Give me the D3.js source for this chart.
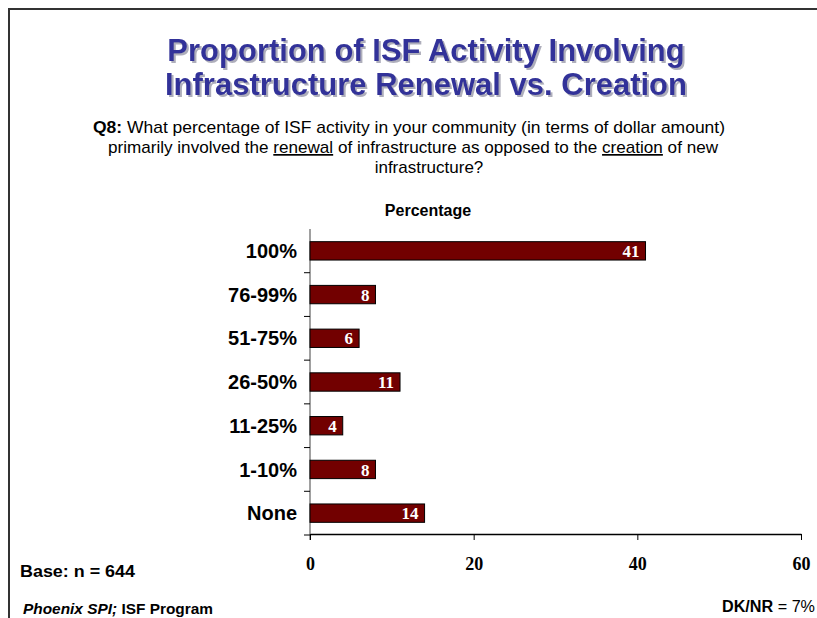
<!DOCTYPE html>
<html>
<head>
<meta charset="utf-8">
<script src="https://cdn.jsdelivr.net/npm/d3@7"></script>
<style>
  body { margin: 0; background: #fff; }
  svg { display: block; }
</style>
</head>
<body>
<div id="chart"></div>
<script>
// Proportion of ISF activity: renewal vs creation
var categories = ["100%", "76-99%", "51-75%", "26-50%", "11-25%", "1-10%", "None"];
var values = [41, 8, 6, 11, 4, 8, 14];
var xTicks = [0, 20, 40, 60];

var W = 817, H = 618;
var sans = "'Liberation Sans', Arial, sans-serif";
var serif = "'Liberation Serif', 'Times New Roman', serif";

var svg = d3.select("#chart").append("svg")
	.attr("width", W)
	.attr("height", H);

// drop shadow for the title
var defs = svg.append("defs");
defs.append("filter")
	.attr("id", "shadow")
	.attr("x", "-5%").attr("y", "-20%").attr("width", "110%").attr("height", "140%")
	.append("feDropShadow")
		.attr("dx", 2).attr("dy", 2).attr("stdDeviation", 0.4)
		.attr("flood-color", "#9a9aaa").attr("flood-opacity", 0.8);

// frame lines (top + left)
svg.append("path")
	.attr("d", "M9,618 V9 H817")
	.style("fill", "none")
	.style("stroke", "#333")
	.style("stroke-width", 2);

// title
var titleLines = ["Proportion of ISF Activity Involving", "Infrastructure Renewal vs. Creation"];
svg.selectAll(".title")
	.data(titleLines)
	.enter()
	.append("text")
		.attr("class", "title")
		.attr("x", 426)
		.attr("y", function(d, i) { return 61 + i * 34; })
		.attr("text-anchor", "middle")
		.attr("filter", "url(#shadow)")
		.style("font-family", sans).style("font-weight", 700).style("font-size", "31px")
		.style("fill", "#333399")
		.text(function(d) { return d; });

// question text
var q1 = svg.append("text")
	.attr("x", 93).attr("y", 133)
	.attr("textLength", 632).attr("lengthAdjust", "spacingAndGlyphs")
	.style("font-family", sans).style("font-size", "17px").style("fill", "#000");
q1.append("tspan").style("font-weight", 700).text("Q8:");
q1.append("tspan").text(" What percentage of ISF activity in your community (in terms of dollar amount)");

var q2 = svg.append("text")
	.attr("x", 108).attr("y", 153)
	.attr("textLength", 610).attr("lengthAdjust", "spacingAndGlyphs")
	.style("font-family", sans).style("font-size", "17px").style("fill", "#000");
q2.append("tspan").text("primarily involved the ");
q2.append("tspan").style("text-decoration", "underline").text("renewal");
q2.append("tspan").text(" of infrastructure as opposed to the ");
q2.append("tspan").style("text-decoration", "underline").text("creation");
q2.append("tspan").text(" of new");

svg.append("text")
	.attr("x", 429).attr("y", 173)
	.attr("text-anchor", "middle")
	.style("font-family", sans).style("font-size", "17px")
	.text("infrastructure?");

svg.append("text")
	.attr("x", 428).attr("y", 216)
	.attr("text-anchor", "middle")
	.style("font-family", sans).style("font-weight", 700).style("font-size", "16px")
	.text("Percentage");

// scales
var x = d3.scaleLinear().domain([0, 60]).range([310, 801]);
var y = d3.scaleBand().domain(categories).range([229, 535]).paddingInner(0.58).paddingOuter(0.29);

// y axis: gray line with ticks at band boundaries
var yAxisG = svg.append("g");
yAxisG.append("line")
	.attr("x1", x(0)).attr("x2", x(0))
	.attr("y1", 229).attr("y2", 540)
	.style("stroke", "#808080").style("stroke-width", 1.5);
var bounds = d3.range(1, categories.length + 1).map(function(i) { return 229 + i * (306 / categories.length); });
yAxisG.selectAll(".ytick")
	.data(bounds)
	.enter()
	.append("line")
		.attr("class", "ytick")
		.attr("x1", x(0) - 6).attr("x2", x(0))
		.attr("y1", function(d) { return d; })
		.attr("y2", function(d) { return d; })
		.style("stroke", "#000").style("stroke-width", 1);

// category labels
svg.selectAll(".cat")
	.data(categories)
	.enter()
	.append("text")
		.attr("class", "cat")
		.attr("x", 297)
		.attr("y", function(d) { return y(d) + y.bandwidth() / 2; })
		.attr("dy", "0.36em")
		.attr("text-anchor", "end")
		.style("font-family", sans).style("font-weight", 700).style("font-size", "20px")
		.text(function(d) { return d; });

// bars
svg.selectAll(".bar")
	.data(values)
	.enter()
	.append("rect")
		.attr("class", "bar")
		.attr("x", x(0))
		.attr("y", function(d, i) { return y(categories[i]); })
		.attr("width", function(d) { return x(d) - x(0); })
		.attr("height", y.bandwidth())
		.style("fill", "#720000")
		.style("stroke", "#000")
		.style("stroke-width", 1);

// value labels
svg.selectAll(".val")
	.data(values)
	.enter()
	.append("text")
		.attr("class", "val")
		.attr("x", function(d) { return x(d) - 6; })
		.attr("y", function(d, i) { return y(categories[i]) + y.bandwidth() / 2; })
		.attr("dy", "0.36em")
		.attr("text-anchor", "end")
		.style("font-family", serif).style("font-weight", 700).style("font-size", "17px")
		.style("fill", "#fff")
		.text(function(d) { return d; });

// x axis
var xAxis = d3.axisBottom(x).tickValues(xTicks).tickSize(6).tickPadding(17).tickSizeOuter(0);
var xg = svg.append("g")
	.attr("transform", "translate(0,534)")
	.call(xAxis);
xg.select(".domain").style("stroke", "#000").style("stroke-width", 1.5);
xg.selectAll(".tick line").style("stroke", "#000");
xg.selectAll(".tick text")
	.style("font-family", serif).style("font-weight", 700).style("font-size", "18px")
	.style("fill", "#000");

// footer
svg.append("text")
	.attr("x", 20).attr("y", 577)
	.attr("textLength", 115).attr("lengthAdjust", "spacingAndGlyphs")
	.style("font-family", sans).style("font-weight", 700).style("font-size", "16px")
	.text("Base: n = 644");

var src = svg.append("text")
	.attr("x", 23).attr("y", 614)
	.attr("textLength", 190).attr("lengthAdjust", "spacingAndGlyphs")
	.style("font-family", sans).style("font-weight", 700).style("font-size", "15px");
src.append("tspan").style("font-style", "italic").text("Phoenix SPI;");
src.append("tspan").text(" ISF Program");

var dk = svg.append("text")
	.attr("x", 722).attr("y", 612)
	.attr("textLength", 93).attr("lengthAdjust", "spacingAndGlyphs")
	.style("font-family", sans).style("font-size", "16px");
dk.append("tspan").style("font-weight", 700).text("DK/NR");
dk.append("tspan").text(" = 7%");
</script>
</body>
</html>
